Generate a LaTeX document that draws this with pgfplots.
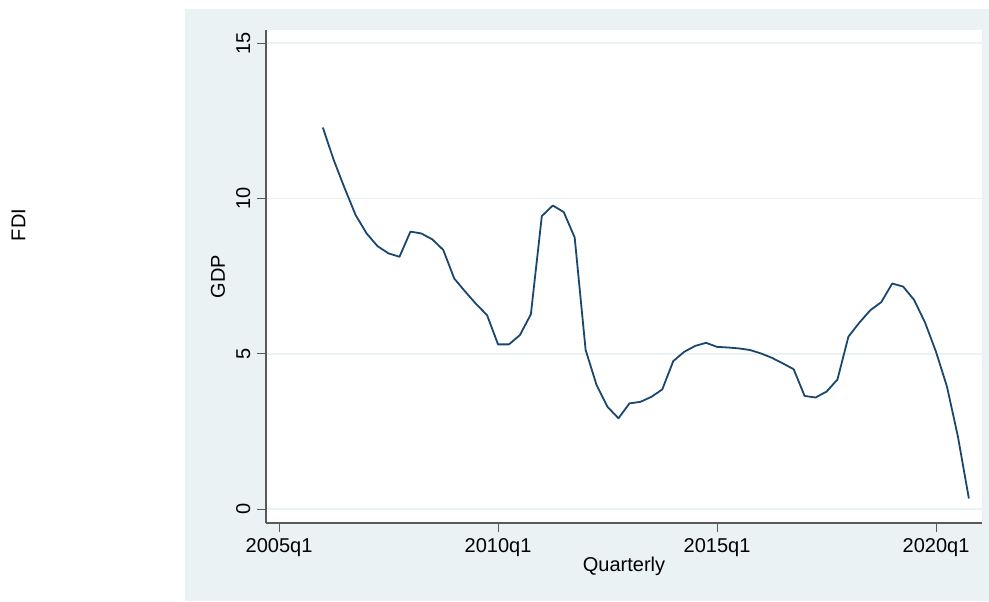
\documentclass[border=0pt]{standalone}
\usepackage{fontspec}
\setmainfont{Liberation Sans}
\usepackage{pgfplots}
\pgfplotsset{compat=1.18}
\usepackage{pgfplotstable}
\definecolor{stbg}{HTML}{EAF2F3}
\definecolor{stnavy}{HTML}{1A476F}
\definecolor{staxis}{HTML}{5A5A5A}
\pgfplotstableread{
q y
4 12.28
5 11.23
6 10.32
7 9.46
8 8.87
9 8.46
10 8.23
11 8.12
12 8.93
13 8.87
14 8.68
15 8.34
16 7.42
17 7.00
18 6.60
19 6.24
20 5.30
21 5.30
22 5.60
23 6.27
24 9.43
25 9.77
26 9.56
27 8.74
28 5.12
29 3.99
30 3.29
31 2.92
32 3.40
33 3.45
34 3.61
35 3.85
36 4.76
37 5.06
38 5.25
39 5.35
40 5.22
41 5.20
42 5.17
43 5.12
44 5.01
45 4.87
46 4.69
47 4.50
48 3.64
49 3.59
50 3.78
51 4.17
52 5.55
53 6.00
54 6.40
55 6.66
56 7.26
57 7.16
58 6.73
59 6.00
60 5.06
61 3.94
62 2.33
63 0.34
}\gdp
\begin{document}
\begin{tikzpicture}
\useasboundingbox (0,0) rectangle (494.5pt,300.5pt);
\fill[stbg] (92.5pt,0) rectangle (494.5pt,296pt);
\node[rotate=90] at (9.25pt,188pt) {FDI};
\begin{axis}[
  at={(133pt,39pt)}, anchor=south west,
  scale only axis, width=358pt, height=246.5pt,
  xmin=-1.19, xmax=64.2, ymin=-0.45, ymax=15.42,
  axis background/.style={fill=white},
  axis x line*=bottom, axis y line*=left,
  axis line style={staxis, line width=0.6pt},
  tick align=outside,
  major tick length=4.3pt,
  tick style={staxis, line width=0.5pt},
  xtick={0,20,40,60},
  xticklabels={2005q1,2010q1,2015q1,2020q1},
  ytick={0,5,10,15},
  yticklabel style={rotate=90, anchor=south},
  /pgf/number format/assume math mode=true,
  ymajorgrids,
  major grid style={stbg, line width=0.8pt},
  xlabel={Quarterly},
  ylabel={GDP},
  xlabel style={at={(axis description cs:0.5,-0.087)}, anchor=center},
  ylabel style={at={(axis description cs:-0.067,0.5)}, anchor=center},
]
\addplot[stnavy, line width=0.9pt, line join=round] table[x=q, y=y] {\gdp};
\end{axis}
\end{tikzpicture}
\end{document}
